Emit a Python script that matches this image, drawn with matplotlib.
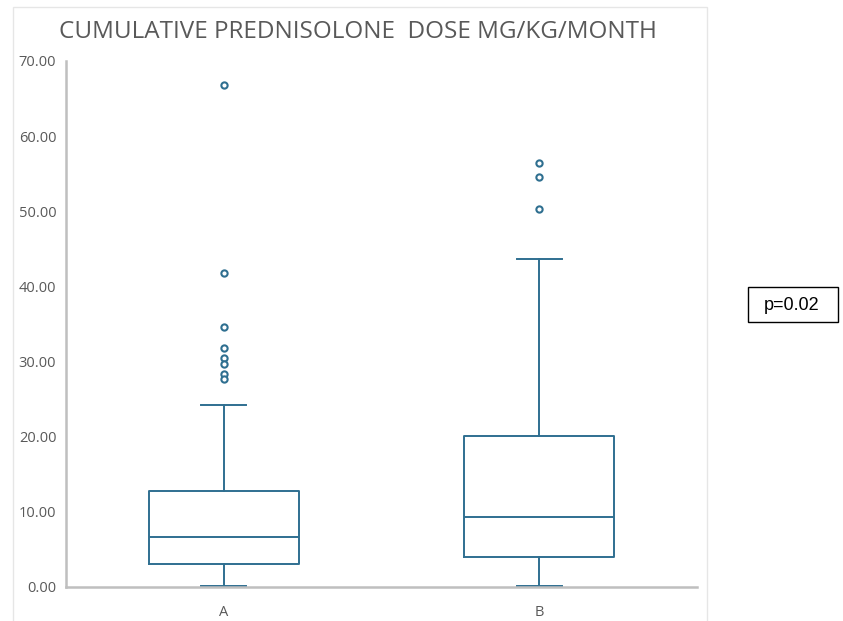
import matplotlib
matplotlib.use("Agg")
import matplotlib.pyplot as plt
from matplotlib.patches import Rectangle

# box plot summary per group (mg/kg/month)
groups = ["A", "B"]
whislo = [0.1, 0.1]
q1 = [3.05, 4.0]
med = [6.65, 9.3]
q3 = [12.8, 20.1]
whishi = [24.2, 43.6]
fliers_a = [66.8, 41.8, 34.6, 31.8, 30.5, 29.7, 28.4, 27.7]
fliers_b = [56.4, 54.6, 50.3]
p_text = "p=0.02"

line_col = "#2f6f90"
grey_txt = "#595959"

stats = []
for i, g in enumerate(groups):
    stats.append(dict(label=g, whislo=whislo[i], q1=q1[i], med=med[i],
                      q3=q3[i], whishi=whishi[i],
                      fliers=[fliers_a, fliers_b][i]))

W, H = 843, 621
fig = plt.figure(figsize=(W / 100, H / 100), dpi=100)
fig.patch.set_facecolor("white")

# light chart frame
fig.patches.append(Rectangle((13 / W, -0.01), (707 - 13) / W, (H - 7) / H + 0.01,
                             transform=fig.transFigure, fill=False,
                             edgecolor="#e6e6e6", linewidth=1))

ax = fig.add_axes([66 / W, 34 / H, 631 / W, 526 / H])
ax.bxp(stats, positions=[1, 2], widths=0.476, showfliers=True,
       boxprops=dict(color=line_col, linewidth=1.4),
       medianprops=dict(color=line_col, linewidth=1.4),
       whiskerprops=dict(color=line_col, linewidth=1.4),
       capprops=dict(color=line_col, linewidth=1.4),
       capwidths=0.143,
       flierprops=dict(marker="o", markersize=4.5, markerfacecolor="white",
                       markeredgecolor=line_col, markeredgewidth=1.5,
                       linestyle="none"))

ax.set_xlim(0.5, 2.5)
ax.set_ylim(0, 70)
ax.set_yticks(range(0, 71, 10))
ax.set_yticklabels([f"{v:.2f}" for v in range(0, 71, 10)])
ax.tick_params(axis="both", length=0, labelsize=10.5, colors=grey_txt)
ax.tick_params(axis="y", pad=7)
ax.tick_params(axis="x", pad=13)
for lab in ax.get_xticklabels() + ax.get_yticklabels():
    lab.set_fontfamily("Open Sans")

for side in ["top", "right"]:
    ax.spines[side].set_visible(False)
for side in ["left", "bottom"]:
    ax.spines[side].set_color("#bfbfbf")
    ax.spines[side].set_linewidth(1.8)

fig.text(358 / W, 1 - 32 / H, "CUMULATIVE PREDNISOLONE  DOSE MG/KG/MONTH",
         ha="center", va="center", fontsize=17.5, color=grey_txt,
         fontfamily="Open Sans")

# p-value box at the right of the chart
fig.patches.append(Rectangle((748 / W, 1 - 322 / H), 90 / W, 35 / H,
                             transform=fig.transFigure, facecolor="white",
                             edgecolor="black", linewidth=1))
fig.text(792 / W, 1 - 305 / H, p_text, ha="center", va="center",
         fontsize=13, color="black", fontfamily="Liberation Sans")

fig.savefig("out.png", dpi=100)
